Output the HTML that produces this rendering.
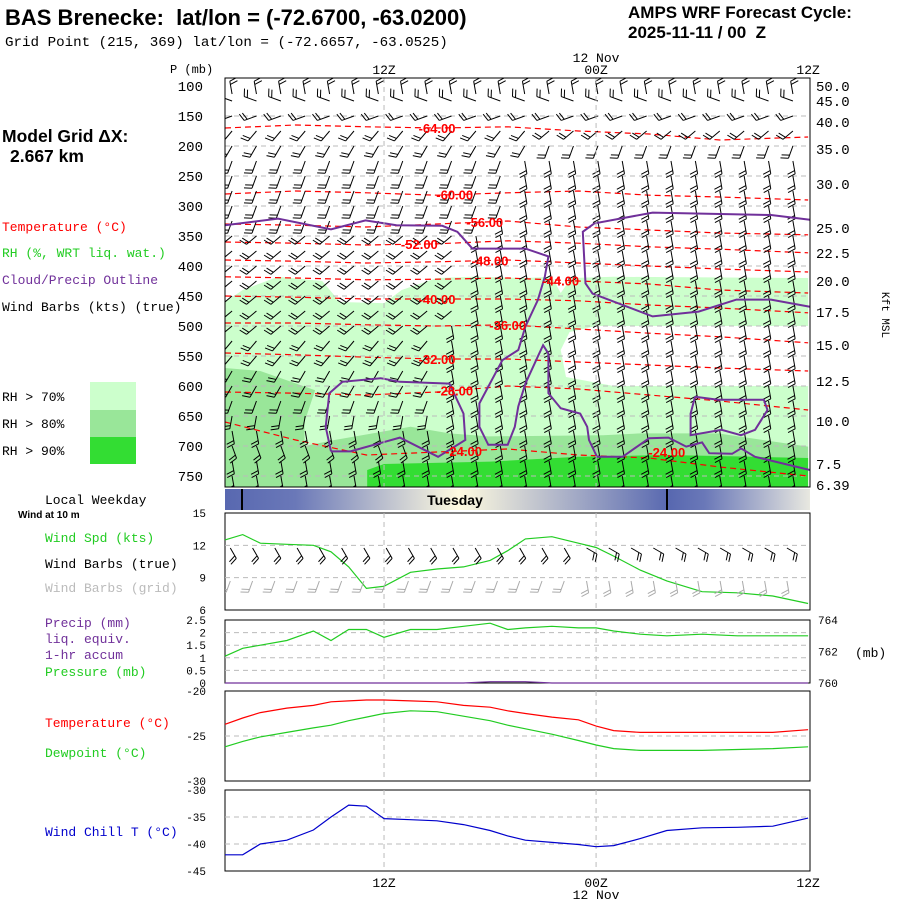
<!DOCTYPE html>
<html><head><meta charset="utf-8"><style>
body{margin:0;background:#fff;width:900px;height:900px;overflow:hidden;font-family:"Liberation Sans",sans-serif}
svg{position:absolute;left:0;top:0}
text{font-family:"Liberation Sans",sans-serif;white-space:pre}
.m{font-family:"Liberation Mono",monospace}
</style></head><body>
<svg id="s" width="900" height="900">
<defs>
<linearGradient id="wk" x1="225" x2="810" y1="0" y2="0" gradientUnits="userSpaceOnUse">
<stop offset="0" stop-color="#5868b0"/><stop offset="0.12" stop-color="#6a78b8"/><stop offset="0.4" stop-color="#fffbe0"/><stop offset="0.76" stop-color="#5868b0"/><stop offset="0.82" stop-color="#6a78b8"/><stop offset="1" stop-color="#e8e8e0"/>
</linearGradient>
<clipPath id="mc"><rect x="225" y="78" width="585" height="409"/></clipPath>
<clipPath id="wc"><rect x="225" y="513" width="585" height="97"/></clipPath>
</defs>
<text x="5" y="25" font-size="22" font-weight="bold">BAS Brenecke:  lat/lon = (-72.6700, -63.0200)</text>
<text x="5" y="46" font-size="14.2" class="m">Grid Point (215, 369) lat/lon = (-72.6657, -63.0525)</text>
<text x="628" y="18" font-size="17" font-weight="bold">AMPS WRF Forecast Cycle:</text>
<text x="628" y="38" font-size="17" font-weight="bold">2025-11-11 / 00  Z</text>
<text x="2" y="142" font-size="17.5" font-weight="bold">Model Grid ΔX:</text>
<text x="10" y="162" font-size="17.5" font-weight="bold">2.667 km</text>
<text x="2" y="231" font-size="13" class="m" fill="#f00">Temperature (°C)</text>
<text x="2" y="257" font-size="13" class="m" fill="#2c2">RH (%, WRT liq. wat.)</text>
<text x="2" y="284" font-size="13" class="m" fill="#70309a">Cloud/Precip Outline</text>
<text x="2" y="311" font-size="13" class="m">Wind Barbs (kts) (true)</text>
<rect x="90" y="382" width="46" height="28" fill="#ccffcc"/>
<rect x="90" y="410" width="46" height="27" fill="#99e699"/>
<rect x="90" y="437" width="46" height="27" fill="#33dd33"/>
<text x="2" y="401" font-size="13" class="m">RH &gt; 70%</text>
<text x="2" y="428" font-size="13" class="m">RH &gt; 80%</text>
<text x="2" y="455" font-size="13" class="m">RH &gt; 90%</text>
<text x="45" y="504" font-size="13" class="m">Local Weekday</text>
<text x="18" y="518" font-size="10" font-weight="bold">Wind at 10 m</text>
<text x="45" y="542" font-size="13" class="m" fill="#2c2">Wind Spd (kts)</text>
<text x="45" y="568" font-size="13" class="m">Wind Barbs (true)</text>
<text x="45" y="592" font-size="13" class="m" fill="#bbb">Wind Barbs (grid)</text>
<text x="45" y="627" font-size="13" class="m" fill="#70309a">Precip (mm)</text>
<text x="45" y="643" font-size="13" class="m" fill="#70309a">liq. equiv.</text>
<text x="45" y="659" font-size="13" class="m" fill="#70309a">1-hr accum</text>
<text x="45" y="676" font-size="13" class="m" fill="#2c2">Pressure (mb)</text>
<text x="45" y="727" font-size="13" class="m" fill="#f00">Temperature (°C)</text>
<text x="45" y="757" font-size="13" class="m" fill="#2c2">Dewpoint (°C)</text>
<text x="45" y="836" font-size="13" class="m" fill="#00c">Wind Chill T (°C)</text>
<text x="855" y="657" font-size="13" class="m">(mb)</text>
<text x="882" y="315" font-size="11" class="m" transform="rotate(90 882 315)" text-anchor="middle">Kft MSL</text>
<text x="170" y="73" font-size="12" class="m">P (mb)</text>
<g id="g"></g>
</svg>
<script>
const NS="http://www.w3.org/2000/svg";
const G=document.getElementById('g');
function el(t,a,p){const e=document.createElementNS(NS,t);for(const k in a)e.setAttribute(k,a[k]);(p||G).appendChild(e);return e;}
const X0=225,X1=810,PX_H=17.67;
const xh=h=>X0+h*PX_H;
const MT=78,MB=487;
const yp=p=>86+(p-100)*0.6;
const pLevels=[100,150,200,250,300,350,400,450,500,550,600,650,700,750];
const kftLabels=["50.0","45.0","40.0","35.0","30.0","25.0","22.5","20.0","17.5","15.0","12.5","10.0","7.5","6.39"];
const kftY=[86,101,122,149,184,228,253,281,312,345,381,421,464,485];
const timeTicks=[9,21,33];
const timeLabels=["12Z","00Z","12Z"];
const rh70=[[0,460],[1,440],[3,418],[5.5,425],[6.5,460],[9,462],[10,440],[12,420],[14,418],[17,420],[18.5,418],[19,445],[19.6,420],[22,418],[33,420],[33,770],[0,770]];
const rhHole=[[19.5,510],[21,500],[33,500],[33,600],[22,600],[19.3,585],[19,540]];
const rh80=[[0,570],[2,575],[5.1,607],[4.5,660],[4.5,700],[6.2,690],[10.5,668],[12.7,679],[14.9,684],[21.4,682],[23.5,679],[27.9,679],[33,701],[33,770],[0,770]];
const rh90=[[8.05,740],[9,730],[15,726],[20,718],[25,715],[30,718],[33,720],[33,770],[8.05,770]];
const tHours=[0,4,8,12,16,20,24,28,33];
const tLevels=["-64.00","-60.00","-56.00","-52.00","-48.00","-44.00","-40.00","-36.00","-32.00","-28.00","-24.00"];
const tP=[[170,165,168,170,168,175,180,190,185],[280,275,278,282,278,275,282,285,290],[330,332,335,330,325,335,340,345,348],[360,362,365,363,358,362,368,372,378],[390,392,395,393,390,395,400,405,410],[418,420,423,422,420,425,430,440,445],[450,452,455,455,455,458,465,470,478],[495,495,498,500,498,505,512,518,528],[545,548,552,555,555,560,565,570,575],[610,612,615,610,600,605,615,625,640],[660,690,715,710,705,715,720,735,750]];
const tLabelHour=[12,13,14.7,11,15,19,12,16,12,13,13.5];
const barbP=[100,125,150,175,200,225,250,275,300,325,350,375,400,425,450,475,500,525,550,575,600,625,650,675,700,725,750];
const barbDirL=[350,290,250,220,210,200,200,200,200,200,230,230,230,230,230,230,230,220,220,210,210,200,190,170,160,170,170];
const barbDirR=[350,290,250,230,200,170,170,170,170,170,170,170,170,170,170,170,170,170,170,170,170,170,170,170,170,170,170];
const barbSplit=[18,18,18,18,18,16,16,16,16,15,14,14,14,13,13,13,12,12,12,12,12,12,12,12,11,11,11];
const cloudA=[[0,332],[3,321],[6,339],[7.95,324],[9.7,332],[12.3,333],[13.15,343],[14,371],[17,371],[18.3,384],[18.1,418],[17.7,457],[17,501],[16.6,540],[15.7,557],[14.9,601],[14.4,629],[14.4,668],[14.9,698],[16,698],[16.4,668],[16.6,634],[17,596],[17.7,551],[18,532],[18.3,546],[18.3,612],[19,637],[20.1,646],[20.5,668],[20.6,690],[21.05,718],[22.5,718],[24,687],[25.1,686],[26.1,701],[27,694],[27.4,712],[28.7,713],[29.2,704],[30,718],[33.1,740]];
const cloudB=[[33.1,323],[30.9,315],[24.2,311],[20.9,329],[20.25,343],[20.4,429],[20.8,446],[24.2,484],[26.8,476],[28.95,456],[30.9,456],[33.1,468]];
const cloudC=[[6,709],[7.1,709],[9.9,686],[12.06,718],[13.6,690],[13.5,646],[12.7,596],[9.9,593],[8.8,587],[6.65,593],[5.9,612],[5.7,668],[6,709]];
const cloudD=[[26.6,618],[27.9,623],[30.5,623],[30.7,640],[30,673],[29.2,682],[28.1,673],[26.35,682],[26.35,646],[26.6,618]];
function poly(arr,attrs,name,par){const pts=arr.map(a=>xh(a[0]).toFixed(1)+','+yp(a[1]).toFixed(1)).join(' ');const e=el('polygon',Object.assign({points:pts},attrs),par);return e;}
function pline(arr,attrs,name,par){const pts=arr.map(a=>xh(a[0]).toFixed(1)+','+yp(a[1]).toFixed(1)).join(' ');const e=el('polyline',Object.assign({points:pts,fill:'none'},attrs),par);return e;}
const mg=el('g',{'clip-path':'url(#mc)'});


poly(rh70,{fill:'#ccffcc'},'rh70-region',mg);
poly(rhHole,{fill:'#fff'},'rh-dry-hole',mg);
poly(rh80,{fill:'#99e699'},'rh80-region',mg);
poly(rh90,{fill:'#33dd33'},'rh90-region',mg);
pLevels.forEach((p,i)=>{
 if(i>0){const l=el('line',{x1:X0,x2:X1,y1:yp(p),y2:yp(p),stroke:'#bbb','stroke-dasharray':'5,4'},mg);}
 const t=el('text',{x:203,y:yp(p)+5,'font-size':14,'text-anchor':'end','class':'m'});t.textContent=p;
 
});
kftLabels.forEach((k,i)=>{const t=el('text',{x:816,y:kftY[i]+5,'font-size':14,'class':'m'});t.textContent=k;});
tLevels.forEach((lab,i)=>{
 const arr=tHours.map((h,j)=>[h,tP[i][j]]);
 pline(arr,{stroke:'#f00','stroke-width':1.2,'stroke-dasharray':'6,4'},'temp-contour',mg);
});
function barb(x,y,dir,len,col,nb,name,parent){
 const r=dir*Math.PI/180;const dx=Math.sin(r),dy=-Math.cos(r);
 const x2=x+dx*len,y2=y+dy*len;
 const g=el('g',{stroke:col,'stroke-width':1,fill:'none'},parent);
 
 el('line',{x1:x,y1:y,x2:x2,y2:y2},g);
 for(let k=0;k<nb;k++){const bx=x+dx*len*(1-k*0.25),by=y+dy*len*(1-k*0.25);
  const rr=r+Math.PI/2.5;el('line',{x1:bx,y1:by,x2:bx+Math.sin(rr)*8,y2:by-Math.cos(rr)*8},g);}
}
barbP.forEach((p,i)=>{for(let c=0;c<24;c++){const h=0.4+c*1.38;const d=h<barbSplit[i]?barbDirL[i]:barbDirR[i];barb(xh(h),yp(p)+(i===0?8:0),d,13,'#000',2,'wind-barb',mg);}});
[cloudA,cloudB,cloudC,cloudD].forEach(c=>pline(c,{stroke:'#70309a','stroke-width':2},'cloud-outline',mg));
tLevels.forEach((lab,i)=>{
 const h=tLabelHour[i];let j=0;while(j<tHours.length-2&&tHours[j+1]<h)j++;
 const f=(h-tHours[j])/(tHours[j+1]-tHours[j]);const p=tP[i][j]+(tP[i][j+1]-tP[i][j])*f;
 const t=el('text',{x:xh(h),y:yp(p)+5,'font-size':13,'font-weight':'bold',fill:'#f00','text-anchor':'middle'},mg);t.textContent=lab;
 
});
{const t=el('text',{x:xh(25),y:yp(710)+5,'font-size':13,'font-weight':'bold',fill:'#f00','text-anchor':'middle'},mg);t.textContent='-24.00';}
function vgrid(top,bot){timeTicks.slice(0,2).forEach(h=>{const l=el('line',{x1:xh(h),x2:xh(h),y1:top,y2:bot,stroke:'#bbb','stroke-dasharray':'5,4'});});}
vgrid(MT,MB);
function frame(top,bot,name){const r=el('rect',{x:X0,y:top,width:X1-X0,height:bot-top,fill:'none',stroke:'#000','stroke-width':1});}
frame(MT,MB,'profile-panel-frame');
timeTicks.forEach((h,i)=>{const t=el('text',{x:xh(h),y:74,'font-size':13,'text-anchor':'middle','class':'m'});t.textContent=timeLabels[i];
 const b=el('text',{x:xh(h),y:887,'font-size':13,'text-anchor':'middle','class':'m'});b.textContent=timeLabels[i];});
{const t=el('text',{x:xh(21),y:62,'font-size':13,'text-anchor':'middle','class':'m'});t.textContent='12 Nov';
 const b=el('text',{x:xh(21),y:899,'font-size':13,'text-anchor':'middle','class':'m'});b.textContent='12 Nov';}
{const r=el('rect',{x:X0,y:489,width:X1-X0,height:21,fill:'url(#wk)'});
 [242,667].forEach(x=>{const l=el('line',{x1:x,x2:x,y1:489,y2:510,stroke:'#000','stroke-width':2});});
 const t=el('text',{x:455,y:505,'font-size':14,'font-weight':'bold','text-anchor':'middle'});t.textContent='Tuesday';}
const hrs=[0,1,2,3.5,5,6,7,8,9,10.5,12,13.5,15,16,17,18.5,20,21,22,23.5,25,27,29,31,33];
const windSpd=[12.5,13,12.2,12.1,12,11.4,10,8,8.2,9.5,9.8,10,10.6,11.5,12.6,12.8,12.2,11.8,11,9.7,8.7,7.7,7.6,7.3,6.6];
const pres=[761.7,762.2,762.4,762.7,763.3,762.7,763.4,763.4,762.9,763.4,763.4,763.6,763.8,763.4,763.5,763.6,763.5,763.5,763.3,763.1,763.0,763.1,763.0,763.0,763.0];
const precip=[0,0,0,0,0,0,0,0,0,0,0,0,0.05,0.05,0.05,0,0,0,0,0,0,0,0,0,0];
const temp=[-23.7,-23,-22.4,-21.9,-21.6,-21.2,-21.1,-21,-21,-21.1,-21.2,-21.6,-21.8,-22.2,-22.5,-22.9,-23.2,-23.9,-24.4,-24.6,-24.6,-24.6,-24.6,-24.6,-24.3];
const dewp=[-26.2,-25.6,-25.1,-24.6,-24.1,-23.8,-23.3,-22.9,-22.5,-22.2,-22.3,-22.8,-23.3,-23.8,-24.2,-24.8,-25.5,-26,-26.4,-26.6,-26.6,-26.6,-26.5,-26.4,-26.2];
const chill=[-42,-42,-40,-39.3,-37.4,-35,-32.8,-33,-35.3,-35.5,-35.7,-36.4,-37.5,-38.5,-39.3,-39.7,-40.1,-40.5,-40.3,-39,-37.5,-37,-36.9,-36.7,-35.2];
function panel(top,bot,vmin,vmax,ticks,name){
 frame(top,bot,name+'-frame');vgrid(top,bot);
 const y=v=>bot-(v-vmin)/(vmax-vmin)*(bot-top);
 ticks.forEach(v=>{const t=el('text',{x:206,y:y(v)+4,'font-size':11,'text-anchor':'end','class':'m'});t.textContent=v;
  if(v>vmin&&v<vmax){const l=el('line',{x1:X0,x2:X1,y1:y(v),y2:y(v),stroke:'#bbb','stroke-dasharray':'5,4'});}});
 return y;}
function series(y,vals,col,name){const pts=hrs.map((h,i)=>xh(h).toFixed(1)+','+y(vals[i]).toFixed(1)).join(' ');const e=el('polyline',{points:pts,fill:'none',stroke:col,'stroke-width':1.2});}
const yw=panel(513,610,6,15,[6,9,12,15],'wind-panel');
series(yw,windSpd,'#2c2','wind-speed-line');
const wg=el('g',{'clip-path':'url(#wc)'});


for(let c=0;c<26;c++){const h=0.3+c*1.26;barb(xh(h),548,c<16?150:120,12,'#000',2,'surface-barb-true',wg);barb(xh(h),581,c<16?200:170,12,'#aaa',2,'surface-barb-grid',wg);}
const ypp=panel(620,683,0,2.5,[0,0.5,1,1.5,2,2.5],'precip-panel');
const ypr=v=>683-(v-760)/4*63;
[760,762,764].forEach(v=>{const t=el('text',{x:818,y:ypr(v)+4,'font-size':11,'class':'m'});t.textContent=v;});
series(ypr,pres,'#2c2','pressure-line');
series(ypp,precip,'#70309a','precip-line');
const yt=panel(691,781,-30,-20,[-30,-25,-20],'temp-panel');
series(yt,temp,'#f00','temperature-line');
series(yt,dewp,'#2c2','dewpoint-line');
const yc=panel(790,871,-45,-30,[-45,-40,-35,-30],'windchill-panel');
series(yc,chill,'#00c','windchill-line');
</script>
</body></html>
